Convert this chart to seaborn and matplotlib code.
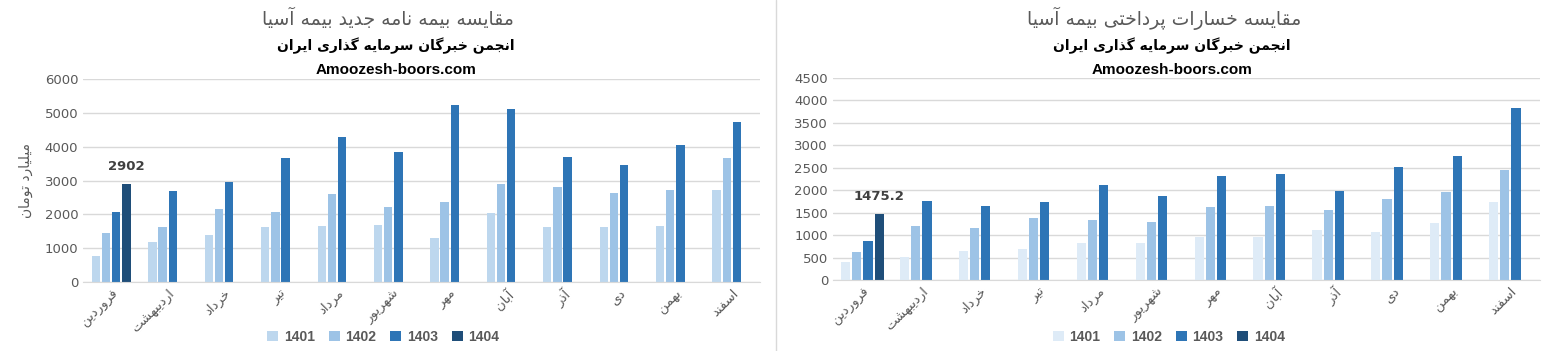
import numpy as np
import pandas as pd
import seaborn as sns
import matplotlib.pyplot as plt
from matplotlib.patches import Patch
from matplotlib.lines import Line2D

# persian month names and series values
months = ['فروردین', 'اردیبهشت', 'خرداد', 'تیر', 'مرداد', 'شهریور',
          'مهر', 'آبان', 'آذر', 'دی', 'بهمن', 'اسفند']
years = ['1401', '1402', '1403', '1404']

premium_1401 = [780, 1190, 1400, 1640, 1670, 1700, 1310, 2030, 1640, 1640, 1670, 2730]
premium_1402 = [1460, 1640, 2170, 2080, 2590, 2230, 2380, 2910, 2820, 2620, 2730, 3680]
premium_1403 = [2080, 2700, 2970, 3680, 4300, 3830, 5220, 5130, 3710, 3470, 4065, 4720]
premium_1404 = [2902] + [np.nan] * 11

claims_1401 = [402, 513, 647, 692, 826, 826, 960, 960, 1116, 1071, 1272, 1740]
claims_1402 = [625, 1205, 1160, 1384, 1339, 1294, 1629, 1651, 1562, 1807, 1964, 2455]
claims_1403 = [870, 1763, 1651, 1741, 2120, 1874, 2321, 2365, 1986, 2521, 2767, 3838]
claims_1404 = [1475.2] + [np.nan] * 11

title_left = 'مقایسه بیمه نامه جدید بیمه آسیا'
title_right = 'مقایسه خسارات پرداختی بیمه آسیا'
subtitle = 'انجمن خبرگان سرمایه گذاری ایران'
site = 'Amoozesh-boors.com'
ylabel_left = 'میلیارد تومان'

# minimal arabic-script shaping (matplotlib has no shaping / bidi)
FORMS = {
    'ا': ('\uFE8D', '\uFE8E', None, None),
    'آ': ('\uFE81', '\uFE82', None, None),
    'ب': ('\uFE8F', '\uFE90', '\uFE91', '\uFE92'),
    'پ': ('\uFB56', '\uFB57', '\uFB58', '\uFB59'),
    'ت': ('\uFE95', '\uFE96', '\uFE97', '\uFE98'),
    'ج': ('\uFE9D', '\uFE9E', '\uFE9F', '\uFEA0'),
    'خ': ('\uFEA5', '\uFEA6', '\uFEA7', '\uFEA8'),
    'د': ('\uFEA9', '\uFEAA', None, None),
    'ذ': ('\uFEAB', '\uFEAC', None, None),
    'ر': ('\uFEAD', '\uFEAE', None, None),
    'ز': ('\uFEAF', '\uFEB0', None, None),
    'س': ('\uFEB1', '\uFEB2', '\uFEB3', '\uFEB4'),
    'ش': ('\uFEB5', '\uFEB6', '\uFEB7', '\uFEB8'),
    'ف': ('\uFED1', '\uFED2', '\uFED3', '\uFED4'),
    'ق': ('\uFED5', '\uFED6', '\uFED7', '\uFED8'),
    'گ': ('\uFB92', '\uFB93', '\uFB94', '\uFB95'),
    'ل': ('\uFEDD', '\uFEDE', '\uFEDF', '\uFEE0'),
    'م': ('\uFEE1', '\uFEE2', '\uFEE3', '\uFEE4'),
    'ن': ('\uFEE5', '\uFEE6', '\uFEE7', '\uFEE8'),
    'ه': ('\uFEE9', '\uFEEA', '\uFEEB', '\uFEEC'),
    'و': ('\uFEED', '\uFEEE', None, None),
    'ی': ('\uFBFC', '\uFBFD', '\uFBFE', '\uFBFF'),
}


def fa(text):
    out = []
    for i, c in enumerate(text):
        if c not in FORMS:
            out.append(c)
            continue
        prev = text[i - 1] if i > 0 else None
        nxt = text[i + 1] if i + 1 < len(text) else None
        join_prev = prev in FORMS and FORMS[prev][2] is not None
        join_next = nxt in FORMS and FORMS[c][2] is not None
        iso, fin, ini, med = FORMS[c]
        if join_prev and join_next:
            out.append(med)
        elif join_prev:
            out.append(fin)
        elif join_next:
            out.append(ini)
        else:
            out.append(iso)
    return ''.join(reversed(out))


def long_df(series):
    rows = []
    for y, vals in zip(years, series):
        for m, v in zip(months, vals):
            rows.append((m, y, v))
    return pd.DataFrame(rows, columns=['month', 'year', 'value'])


sns.set_style('white')
plt.rcParams['font.family'] = ['DejaVu Sans']

grey = '#595959'
pal_left = ['#BDD7EE', '#9DC3E6', '#2E75B6', '#1F4E79']
pal_right = ['#DEEBF7', '#9DC3E6', '#2E75B6', '#1F4E79']

fig = plt.figure(figsize=(15.52, 3.51), dpi=100)
ax1 = fig.add_axes([0.0535, 0.1966, 0.4362, 0.578])
ax2 = fig.add_axes([0.5367, 0.2023, 0.4555, 0.5755])

panels = [
    (ax1, long_df([premium_1401, premium_1402, premium_1403, premium_1404]),
     pal_left, 6000, 1000, 0.72, title_left, 0.25),
    (ax2, long_df([claims_1401, claims_1402, claims_1403, claims_1404]),
     pal_right, 4500, 500, 0.76, title_right, 0.75),
]

for ax, df, pal, ymax, step, w, title, cx in panels:
    sns.barplot(df, x='month', y='value', hue='year', order=months,
                hue_order=years, palette=pal, width=w, gap=0.18,
                saturation=1, legend=False, errorbar=None, linewidth=0,
                ax=ax)
    ax.set_ylim(0, ymax)
    ax.set_yticks(np.arange(0, ymax + 1, step))
    ax.set_xlim(-0.5, 11.5)
    ax.yaxis.grid(True, color='#D9D9D9', lw=1)
    ax.set_axisbelow(True)
    for s in ['top', 'right', 'left']:
        ax.spines[s].set_visible(False)
    ax.spines['bottom'].set_color('#D9D9D9')
    ax.tick_params(length=0, labelsize=9.5, colors=grey)
    ax.set_xticks(range(len(months)))
    ax.set_xticklabels([fa(m) for m in months], rotation=45, ha='right',
                       rotation_mode='anchor', fontsize=9.5, color=grey)
    ax.set_xlabel('')
    ax.set_ylabel('')

    last = ax.containers[3]
    vals = [v for v in df[df.year == '1404'].value if not np.isnan(v)]
    ax.bar_label(last, labels=[f'{v:g}' for v in vals], padding=8,
                 fontsize=9.5, fontweight='bold', color='#404040')

    fig.text(cx, 0.948, fa(title), ha='center', va='center',
             fontsize=13.5, color=grey)
    fig.text(cx + 0.005, 0.87, fa(subtitle), ha='center', va='center',
             fontsize=10, fontweight='bold', color='black')
    fig.text(cx + 0.005, 0.80, site, ha='center', va='center',
             fontsize=11, fontweight='bold', color='black',
             family='Liberation Sans')

    handles = [Patch(facecolor=c, edgecolor='none') for c in pal]
    leg = ax.legend(handles, years, loc='center', ncol=4, frameon=False,
                    bbox_to_anchor=(cx - (0.003 if cx < 0.5 else -0.003), 0.04),
                    bbox_transform=fig.transFigure,
                    handlelength=0.8, handleheight=0.8, handletextpad=0.4,
                    columnspacing=1.0,
                    prop={'weight': 'bold', 'size': 10,
                          'family': 'Liberation Sans'})
    for t in leg.get_texts():
        t.set_color(grey)

ax1.set_ylabel(fa(ylabel_left), fontsize=10, color=grey, labelpad=8)

fig.add_artist(Line2D([0.5, 0.5], [0, 1], transform=fig.transFigure,
                      color='#D9D9D9', lw=1))

plt.savefig('out.png', dpi=100)
